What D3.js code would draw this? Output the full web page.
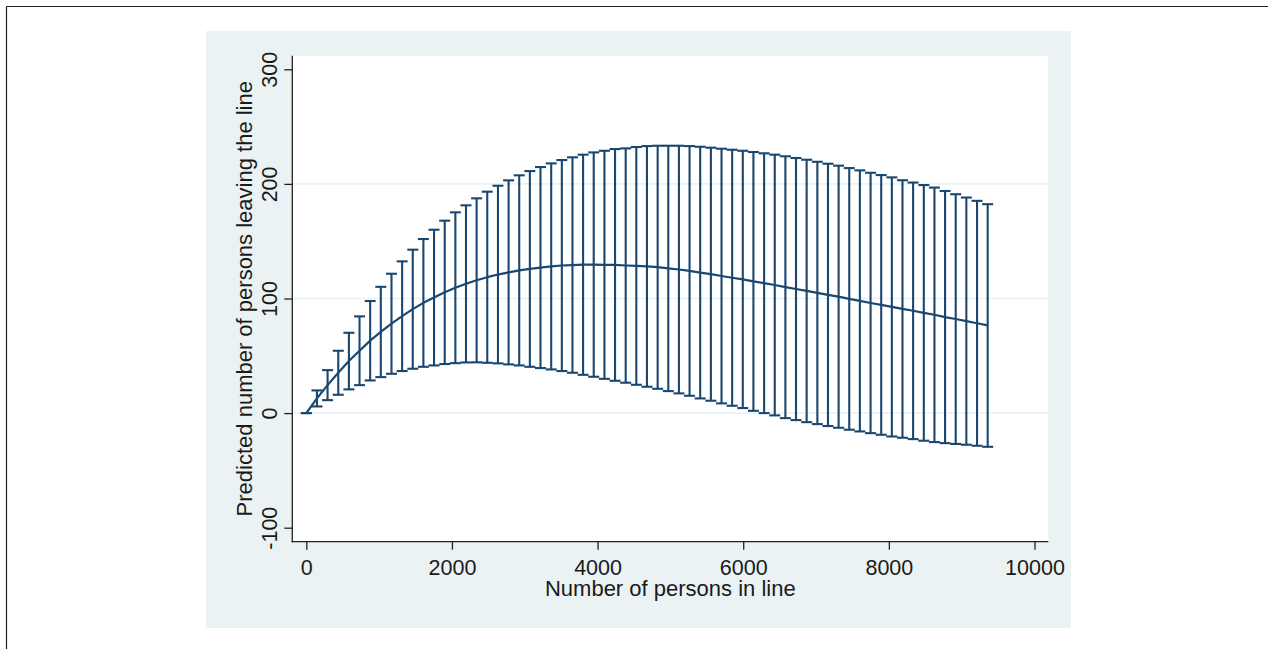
<!DOCTYPE html>
<html>
<head>
<meta charset="utf-8">
<script src="https://cdn.jsdelivr.net/npm/d3@7"></script>
<style>
  html, body { margin: 0; padding: 0; background: #ffffff; }
  svg { display: block; font-family: "Liberation Sans", Arial, Helvetica, sans-serif; }
</style>
</head>
<body>
<svg id="chart" width="1268" height="649"></svg>
<script>
// ---- data ----
const personsInLine = [0,146,292,439,585,731,877,1023,1170,1316,1462,1608,1754,1901,2047,2193,2339,2485,2632,2778,2924,3070,3216,3363,3509,3655,3801,3947,4094,4240,4386,4532,4678,4825,4971,5117,5263,5409,5556,5702,5848,5994,6140,6287,6433,6579,6725,6871,7018,7164,7310,7456,7602,7749,7895,8041,8187,8333,8480,8626,8772,8918,9064,9211,9357];
const upperCI = [0,19.8,37.5,54.4,70.1,84.4,97.8,110.2,121.6,132.4,142.6,151.9,160.0,167.9,175.2,181.3,187.4,193.2,198.4,203.1,207.5,211.2,214.7,217.9,220.8,223.2,225.5,227.5,228.9,230.4,231.0,232.2,233.0,233.3,233.3,233.3,233.0,232.4,231.6,230.7,229.8,228.9,227.8,226.7,225.5,224.1,222.6,221.1,219.3,217.6,215.9,213.8,211.8,209.7,207.7,205.7,203.2,201.2,199.0,196.8,193.8,191.0,188.1,185.2,182.3];
const predicted = [0,12.8,24.4,35.2,45.4,54.4,63.2,70.8,78.0,84.6,90.7,96.2,100.8,105.4,109.4,112.8,115.9,118.6,120.9,122.8,124.6,125.8,127.0,128.0,128.8,129.2,129.5,129.6,129.4,129.3,128.8,128.5,128.0,127.3,126.3,125.3,124.1,122.6,121.2,119.6,118.1,116.7,114.9,113.4,111.8,109.9,108.3,106.6,104.9,103.2,101.6,99.7,97.9,96.1,94.4,92.7,90.9,89.3,87.5,85.8,83.8,82.1,80.3,78.4,76.5];
const lowerCI = [0,5.8,11.3,16.0,20.7,24.4,28.5,31.4,34.3,36.7,38.7,40.4,41.6,42.8,43.6,44.2,44.3,43.9,43.4,42.5,41.6,40.4,39.3,38.1,36.7,35.2,33.4,31.7,29.9,28.2,26.5,24.7,23.0,21.2,19.2,17.2,15.1,12.8,10.8,8.5,6.4,4.4,2.0,0.0,-2.0,-4.4,-6.1,-7.9,-9.6,-11.3,-12.8,-14.5,-16.0,-17.5,-18.9,-20.4,-21.5,-22.7,-24.1,-25.3,-26.2,-26.9,-27.6,-28.5,-29.4];
const xTicks = [0, 2000, 4000, 6000, 8000, 10000];
const yTicks = [-100, 0, 100, 200, 300];
const yGrid = [0, 100, 200];
const xTitle = "Number of persons in line";
const yTitle = "Predicted number of persons leaving the line";

// ---- layout ----
const svg = d3.select("#chart");
const navy = "#1a476f";
const panelColor = "#eaf2f3";
const plot = { left: 292.3, right: 1048.3, top: 55.7, bottom: 541.7 };

const x = d3.scaleLinear().domain([0, 10000]).range([306.3, 1034.5]);
const y = d3.scaleLinear().domain([-100, 300]).range([527.7, 69.3]);
const plainFormat = d => String(d);   // hyphen-minus, as in the reference

// frame lines (top & left)
svg.append("line").attr("x1", 6.5).attr("y1", 6.5).attr("x2", 1268).attr("y2", 6.5)
  .attr("stroke", "#222").attr("stroke-width", 1.2);
svg.append("line").attr("x1", 6.5).attr("y1", 6.5).attr("x2", 6.5).attr("y2", 649)
  .attr("stroke", "#222").attr("stroke-width", 1.2);

// background panel
svg.append("rect").attr("x", 206).attr("y", 31).attr("width", 865).attr("height", 597)
  .attr("fill", panelColor);
// plot region
svg.append("rect").attr("x", plot.left).attr("y", plot.top)
  .attr("width", plot.right - plot.left).attr("height", plot.bottom - plot.top)
  .attr("fill", "#ffffff");

// gridlines
svg.append("g").selectAll("line").data(yGrid).join("line")
  .attr("x1", plot.left).attr("x2", plot.right)
  .attr("y1", d => y(d)).attr("y2", d => y(d))
  .attr("stroke", panelColor).attr("stroke-width", 1.6);

// axes
const fs = "21.5px";
const yAxis = svg.append("g").attr("transform", `translate(${plot.left},0)`)
  .call(d3.axisLeft(y).tickValues(yTicks).tickSize(8).tickFormat(plainFormat));
yAxis.select(".domain").remove();
yAxis.selectAll(".tick line").attr("stroke", "#222").attr("stroke-width", 1.3);
yAxis.selectAll(".tick text")
  .attr("x", null).attr("dy", null)
  .attr("transform", "translate(-15.8,0) rotate(-90)")
  .attr("text-anchor", "middle")
  .attr("fill", "#1a1a1a").style("font-size", fs).style("font-family", "Liberation Sans, Arial, sans-serif");

const xAxis = svg.append("g").attr("transform", `translate(0,${plot.bottom})`)
  .call(d3.axisBottom(x).tickValues(xTicks).tickSize(8).tickFormat(plainFormat));
xAxis.select(".domain").remove();
xAxis.selectAll(".tick line").attr("stroke", "#222").attr("stroke-width", 1.3);
xAxis.selectAll(".tick text")
  .attr("y", 33.5).attr("dy", null)
  .attr("fill", "#1a1a1a").style("font-size", fs).style("font-family", "Liberation Sans, Arial, sans-serif");

// axis lines spanning the plot region
svg.append("line").attr("x1", plot.left).attr("x2", plot.left)
  .attr("y1", plot.top).attr("y2", plot.bottom + 0.6)
  .attr("stroke", "#222").attr("stroke-width", 1.3);
svg.append("line").attr("x1", plot.left - 0.6).attr("x2", plot.right)
  .attr("y1", plot.bottom).attr("y2", plot.bottom)
  .attr("stroke", "#222").attr("stroke-width", 1.3);

// axis titles
svg.append("text").attr("x", (plot.left + plot.right) / 2).attr("y", 595.5)
  .attr("text-anchor", "middle").attr("fill", "#1a1a1a")
  .style("font-size", "22px").text(xTitle);
svg.append("text")
  .attr("transform", `translate(251.7,${(plot.top + plot.bottom) / 2}) rotate(-90)`)
  .attr("text-anchor", "middle").attr("fill", "#1a1a1a")
  .style("font-size", "22px").text(yTitle);

// data
const rows = personsInLine.map((v, i) => ({ x: v, hi: upperCI[i], mid: predicted[i], lo: lowerCI[i] }));
const capHalf = 5.5;
const bars = svg.append("g").attr("stroke", navy).attr("stroke-width", 2.1).attr("fill", "none");
bars.selectAll("line.v").data(rows).join("line").attr("class", "v")
  .attr("x1", d => x(d.x)).attr("x2", d => x(d.x))
  .attr("y1", d => y(d.lo)).attr("y2", d => y(d.hi));
bars.selectAll("line.ch").data(rows).join("line").attr("class", "ch")
  .attr("x1", d => x(d.x) - capHalf).attr("x2", d => x(d.x) + capHalf)
  .attr("y1", d => y(d.hi)).attr("y2", d => y(d.hi));
bars.selectAll("line.cl").data(rows).join("line").attr("class", "cl")
  .attr("x1", d => x(d.x) - capHalf).attr("x2", d => x(d.x) + capHalf)
  .attr("y1", d => y(d.lo)).attr("y2", d => y(d.lo));

svg.append("path").datum(rows)
  .attr("fill", "none").attr("stroke", navy).attr("stroke-width", 2.2)
  .attr("stroke-linejoin", "round")
  .attr("d", d3.line().x(d => x(d.x)).y(d => y(d.mid)));
</script>
</body>
</html>
